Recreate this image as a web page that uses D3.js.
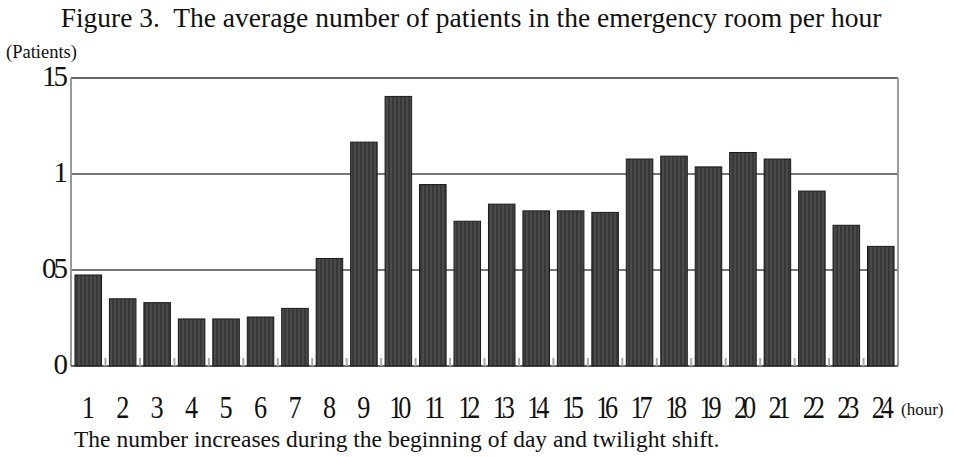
<!DOCTYPE html>
<html><head><meta charset="utf-8">
<script src="https://cdn.jsdelivr.net/npm/d3@7"></script>
<style>
html,body{margin:0;padding:0;background:#fff;}
</style></head>
<body>
<svg id="c" width="954" height="457"></svg>
<script>
const hours = ["1","2","3","4","5","6","7","8","9","10","11","12","13","14","15","16","17","18","19","20","21","22","23","24"];
const patients = [0.474,0.35,0.33,0.245,0.245,0.255,0.30,0.56,1.166,1.404,0.945,0.754,0.843,0.808,0.808,0.80,1.078,1.093,1.037,1.112,1.078,0.911,0.733,0.623];
const yTickValues = [0,0.5,1,1.5];
const yTickLabels = ["0","05","1","15"];
const titleText = "Figure 3.  The average number of patients in the emergency room per hour";
const yUnit = "(Patients)";
const xUnit = "(hour)";
const caption = "The number increases during the beginning of day and twilight shift.";

const SERIF = '"Liberation Serif","Times New Roman",serif';
const svg = d3.select("#c");
const L = 71, R = 898, T = 78, B = 366;
const x = d3.scaleBand().domain(hours).range([L, R]).paddingInner(0.23).paddingOuter(0.115);
const y = d3.scaleLinear().domain([0, 1.5]).range([B, T]);

const defs = svg.append("defs");
const pat = defs.append("pattern").attr("id","stripe").attr("patternUnits","userSpaceOnUse")
  .attr("width",4).attr("height",4);
pat.append("rect").attr("width",4).attr("height",4).attr("fill","#383838");
pat.append("rect").attr("x",2).attr("width",2).attr("height",4).attr("fill","#4a4a4a");

// gridlines
svg.append("g").selectAll("line").data(yTickValues.filter(v => v > 0 && v < 1.5)).join("line")
  .attr("x1", L).attr("x2", R).attr("y1", d => y(d)).attr("y2", d => y(d))
  .attr("stroke", "#777").attr("stroke-width", 2);

// frame
svg.append("line").attr("x1", L).attr("x2", R).attr("y1", y(1.5)).attr("y2", y(1.5)).attr("stroke","#666").attr("stroke-width",2);
svg.append("line").attr("x1", L).attr("x2", L).attr("y1", y(1.5)).attr("y2", y(0)).attr("stroke","#999").attr("stroke-width",2);
svg.append("line").attr("x1", R).attr("x2", R).attr("y1", y(1.5)).attr("y2", y(0)).attr("stroke","#999").attr("stroke-width",2);
svg.append("line").attr("x1", L).attr("x2", R).attr("y1", y(0)).attr("y2", y(0)).attr("stroke","#666").attr("stroke-width",2);

// small ticks between categories
const step = x.step();
svg.append("g").selectAll("line").data(hours.slice(1)).join("line")
  .attr("x1", d => x(d) - step * x.paddingInner() / 2)
  .attr("x2", d => x(d) - step * x.paddingInner() / 2)
  .attr("y1", y(0)).attr("y2", y(0) - 8)
  .attr("stroke", "#aaa").attr("stroke-width", 2);

// bars
svg.append("g").selectAll("rect").data(patients).join("rect")
  .attr("x", (d, i) => x(hours[i]))
  .attr("width", x.bandwidth())
  .attr("y", d => y(d))
  .attr("height", d => y(0) - y(d))
  .attr("fill", "url(#stripe)")
  .attr("stroke", "#1a1a1a").attr("stroke-width", 1);

// y axis labels
const yAxis = d3.axisLeft(y).tickValues(yTickValues).tickSize(0)
  .tickFormat((d, i) => yTickLabels[i]);
const gy = svg.append("g").attr("transform", `translate(65,-3)`).call(yAxis);
gy.select(".domain").remove();
gy.selectAll("text").attr("x", 0).attr("dy", "0.35em")
  .attr("font-family", SERIF).attr("font-size", 29).attr("fill", "#111")
  .style("letter-spacing", "-3px");

// x axis labels
const xAxis = d3.axisBottom(x).tickSize(0);
const gx = svg.append("g").attr("transform", `translate(0,${B})`).call(xAxis);
gx.select(".domain").remove();
gx.selectAll(".tick text").attr("y", 0).attr("dy", 0)
  .attr("transform", "translate(0,52) scale(0.82,1)")
  .attr("font-family", SERIF).attr("font-size", 32).attr("fill", "#111")
  .style("letter-spacing", d => d.length > 1 ? "-5px" : "0px");
gx.selectAll(".tick").attr("transform", d => `translate(${x(d) + x.bandwidth()/2},0)`);

// texts
const addText = (t, xx, yy, size, anchor) => svg.append("text").attr("x", xx).attr("y", yy)
  .attr("text-anchor", anchor || "start").attr("font-family", SERIF).attr("font-size", size)
  .attr("fill", "#111").attr("xml:space", "preserve").style("white-space", "pre").text(t);
addText(titleText, 471, 27, 27.5, "middle");
addText(yUnit, 6, 58, 18.5);
addText(xUnit, 901, 415, 17);
addText(caption, 74, 447, 23.5);
</script>
</body></html>
